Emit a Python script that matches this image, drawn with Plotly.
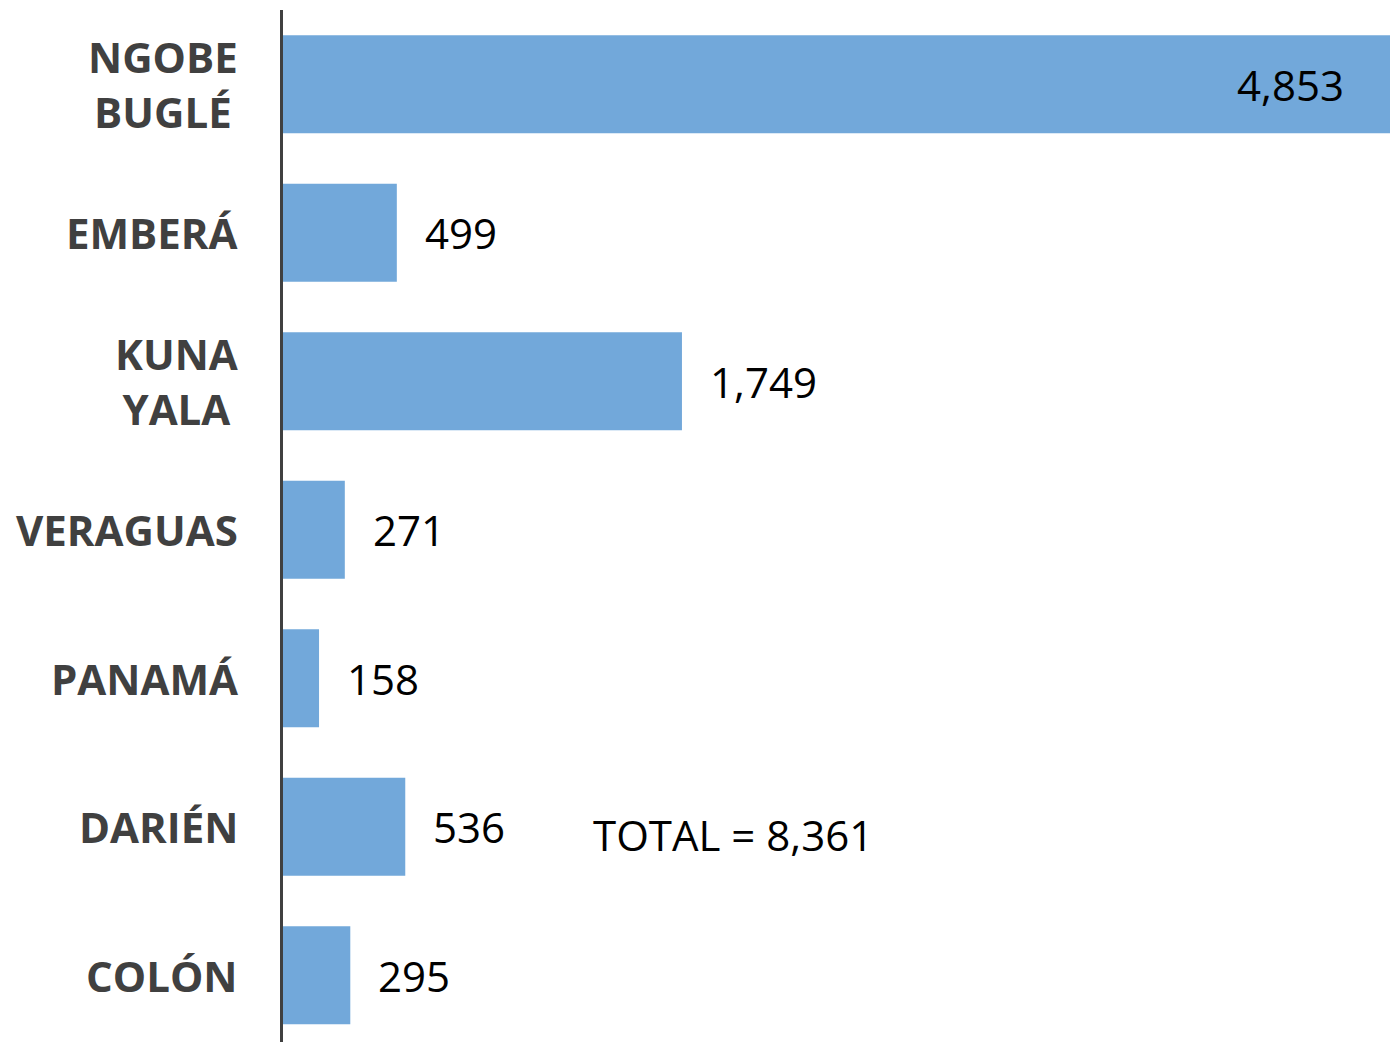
import plotly.graph_objects as go

categories = ["NGOBE<br>BUGLÉ", "EMBERÁ", "KUNA<br>YALA", "VERAGUAS", "PANAMÁ", "DARIÉN", "COLÓN"]
values = [4853, 499, 1749, 271, 158, 536, 295]

BAR_COLOR = "#72A8DA"
LABEL_COLOR = "#404040"
FONT = "Open Sans"

total = sum(values)
ymax = max(values)

fig = go.Figure()
fig.add_trace(go.Bar(
    y=categories, x=values, orientation="h",
    marker=dict(color=BAR_COLOR, line=dict(width=0)),
    hoverinfo="x+y",
))

annotations = []
for cat, v in zip(categories, values):
    # category label
    annotations.append(dict(
        x=0, xref="paper", xshift=-43, xanchor="right",
        y=cat, yref="y", yanchor="middle",
        text=cat, align="center", showarrow=False,
        font=dict(family=FONT, size=42, color=LABEL_COLOR, weight="bold"),
    ))
    # value label
    inside = v > 0.8 * ymax
    annotations.append(dict(
        x=v, xref="x", xanchor="right" if inside else "left",
        xshift=-44 if inside else 26,
        y=cat, yref="y", yanchor="middle",
        text=f"{v:,}", showarrow=False,
        font=dict(family=FONT, size=42, color="#000000"),
    ))

annotations.append(dict(
    x=0.4065, xref="paper", xanchor="center",
    y=0.2006, yref="paper", yanchor="middle",
    text=f"TOTAL = {total:,}", showarrow=False,
    font=dict(family=FONT, size=42, color="#000000"),
))

fig.update_layout(
    width=1390, height=1042,
    margin=dict(l=283, r=0, t=10, b=0),
    paper_bgcolor="white", plot_bgcolor="white",
    bargap=0.34,
    showlegend=False,
    xaxis=dict(range=[0, ymax], visible=False, fixedrange=True),
    yaxis=dict(
        categoryorder="array", categoryarray=categories[::-1],
        range=[-0.45, 6.5],
        showticklabels=False, ticks="",
        showgrid=False, zeroline=False,
        showline=True, linecolor=LABEL_COLOR, linewidth=3,
    ),
    annotations=annotations,
)

fig.write_html(
    "out.html",
    config={"displayModeBar": False},
    post_script="document.body.style.margin='0px';document.body.style.overflow='hidden';",
)
